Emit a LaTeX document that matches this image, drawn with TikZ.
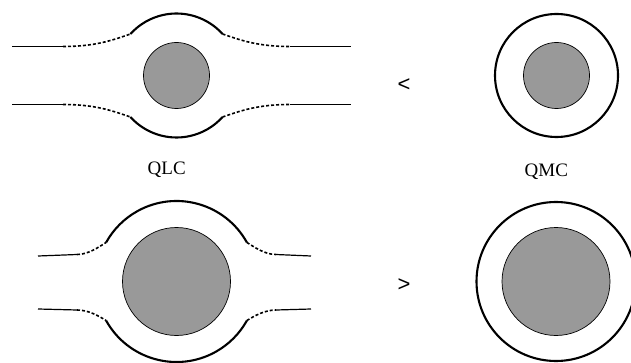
\documentclass[tikz,border=0pt]{standalone}
\usepackage{fontspec}
\setmainfont{Liberation Serif}
\newfontfamily\relfont{Liberation Sans}
\definecolor{coregray}{RGB}{153,153,153}
\begin{document}
\begin{tikzpicture}[x=1pt,y=1pt,
  ring/.style={line width=2.1pt},
  ringnode/.style={circle, draw, line width=2.1pt, inner sep=0pt},
  core/.style={circle, draw, fill=coregray, line width=0.7pt, inner sep=0pt},
  lead/.style={line width=1.2pt},
  fringe/.style={line width=1.6pt, dash pattern=on 3pt off 2pt},
  caption/.style={font=\fontsize{19}{19}\selectfont, anchor=base, inner sep=0pt},
  relation/.style={font=\relfont\fontsize{22}{22}\selectfont, inner sep=0pt}]
\useasboundingbox (0,0) rectangle (631,-363);

% ---- small core, lattice environment (QLC) ----
\coordinate (c1) at (176.5,-75.5);
\node[core, minimum size=66pt] (core1) at (c1) {};
\path (c1) +(138:62) coordinate (a1) +(42:62) coordinate (a2)
           +(222:62) coordinate (a3) +(318:62) coordinate (a4);
\draw[ring] (a2) arc[start angle=42, end angle=138, radius=62];
\draw[ring] (a3) arc[start angle=222, end angle=318, radius=62];
\coordinate (l1) at (12,-46.5);   \coordinate (m1) at (63,-46.5);
\coordinate (m2) at (290,-46.5);  \coordinate (r1) at (351,-46.5);
\coordinate (l2) at (12,-104.5);  \coordinate (m3) at (63,-104.5);
\coordinate (m4) at (290,-104.5); \coordinate (r2) at (351,-104.5);
\draw[lead] (l1) -- (m1);
\draw[fringe] (m1) .. controls +(32,0) and +(-19,-6.5) .. (a1);
\draw[fringe] (a2) .. controls +(19,-6.5) and +(-32,0) .. (m2);
\draw[lead] (m2) -- (r1);
\draw[lead] (l2) -- (m3);
\draw[fringe] (m3) .. controls +(32,0) and +(-19,6.5) .. (a3);
\draw[fringe] (a4) .. controls +(19,6.5) and +(-32,0) .. (m4);
\draw[lead] (m4) -- (r2);
\node[caption] (qlc) at (166.7,-174.3) {QLC};

% ---- small core, isolated cluster (QMC) ----
\coordinate (c2) at (556.5,-75.5);
\node[ringnode, minimum size=123pt] (shell2) at (c2) {};
\node[core, minimum size=66pt] (core2) at (c2) {};
\node[caption] (qmc) at (546.3,-176.5) {QMC};
\node[relation] (lt) at (404,-85) {<};

% ---- large core, lattice environment ----
\coordinate (c3) at (176.5,-281.5);
\node[core, minimum size=108pt] (core3) at (c3) {};
\path (c3) +(151:80.5) coordinate (a5) +(29:80.5) coordinate (a6)
           +(209:80.5) coordinate (a7) +(331:80.5) coordinate (a8);
\draw[ring] (a6) arc[start angle=29, end angle=151, radius=80.5];
\draw[ring] (a7) arc[start angle=209, end angle=331, radius=80.5];
\coordinate (l3) at (38,-256);  \coordinate (m5) at (77,-254.5);
\coordinate (m6) at (276,-254.5); \coordinate (r3) at (311,-256);
\coordinate (l4) at (38,-309);  \coordinate (m7) at (77,-310);
\coordinate (m8) at (276,-310); \coordinate (r4) at (311,-309);
\draw[lead] (l3) -- (m5);
\draw[fringe] (m5) .. controls +(11,0) and +(-8,-5) .. (a5);
\draw[fringe] (a6) .. controls +(8,-5) and +(-11,0) .. (m6);
\draw[lead] (m6) -- (r3);
\draw[lead] (l4) -- (m7);
\draw[fringe] (m7) .. controls +(11,0) and +(-8,5) .. (a7);
\draw[fringe] (a8) .. controls +(8,5) and +(-11,0) .. (m8);
\draw[lead] (m8) -- (r4);

% ---- large core, isolated cluster ----
\coordinate (c4) at (556,-281.5);
\node[ringnode, minimum size=159pt] (shell4) at (c4) {};
\node[core, minimum size=108pt] (core4) at (c4) {};
\node[relation] (gt) at (404,-285) {>};
\end{tikzpicture}
\end{document}
